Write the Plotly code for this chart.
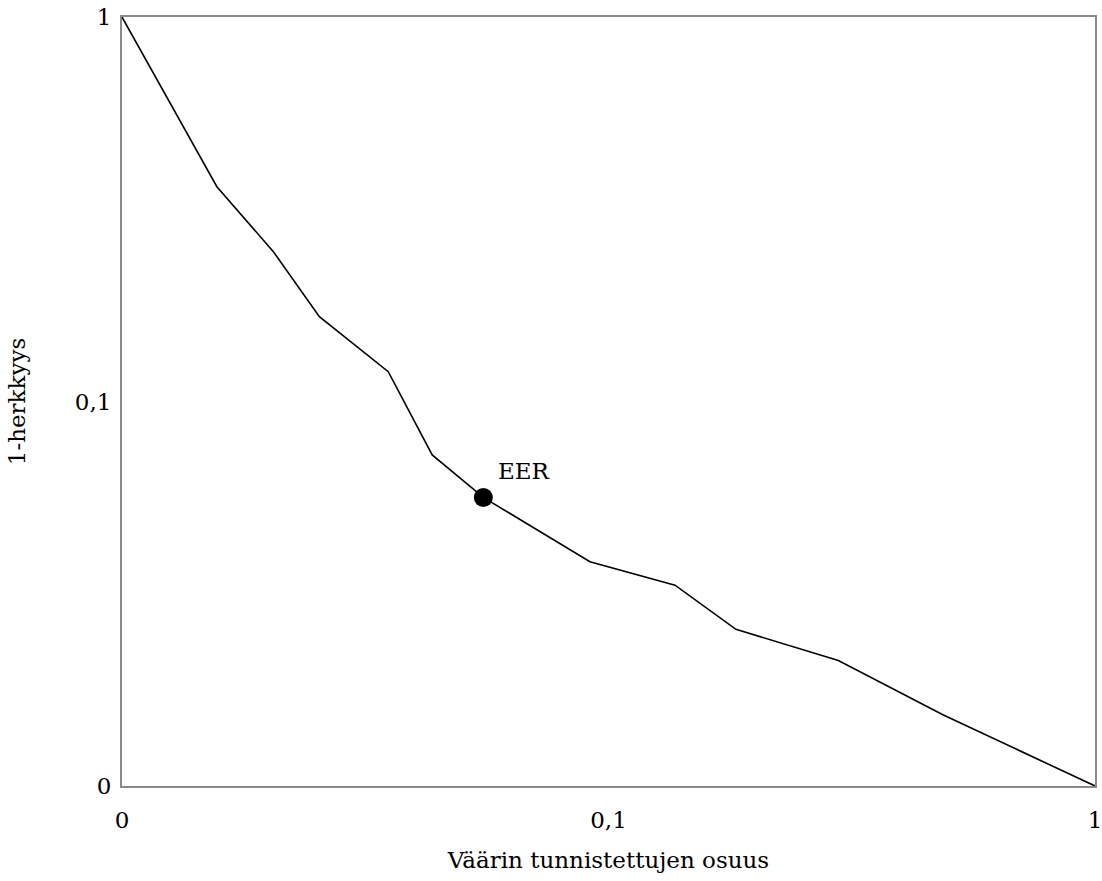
import math
import plotly.graph_objects as go

# DET curve values (false acceptance rate vs 1 - sensitivity), log-log
far = [0.01, 0.01567, 0.02047, 0.02545, 0.03526, 0.04341, 0.0553, 0.0916, 0.137, 0.1828, 0.2968, 0.4879, 1.0]
frr = [1.0, 0.362, 0.2453, 0.1662, 0.1195, 0.0726, 0.0563, 0.0383, 0.0333, 0.02556, 0.0212, 0.0153, 0.01]
eer_x = [0.0553]
eer_y = [0.0563]
eer_label = "EER"

tick_vals = [0.01, 0.1, 1]
tick_text = ["0", "0,1", "1"]

x_title = "Väärin tunnistettujen osuus"
y_title = "1-herkkyys"

FONT = "DejaVu Serif"
FS = 23

fig = go.Figure()
fig.add_trace(go.Scatter(x=far, y=frr, mode="lines",
                         line=dict(color="black", width=1.6),
                         showlegend=False, hoverinfo="skip"))
fig.add_trace(go.Scatter(x=eer_x, y=eer_y, mode="markers",
                         marker=dict(color="black", size=19),
                         showlegend=False))
fig.add_annotation(x=math.log10(eer_x[0]), y=math.log10(eer_y[0]), xref="x", yref="y",
                   text=eer_label, showarrow=False,
                   xanchor="left", yanchor="bottom", xshift=13, yshift=11,
                   font=dict(family=FONT, size=FS, color="black"))

axis_common = dict(type="log", tickvals=tick_vals, ticktext=tick_text,
                   showgrid=False, zeroline=False, showline=True, mirror=True,
                   linecolor="#8a8a8a", linewidth=2, ticks="", automargin=False,
                   ticklabeloverflow="allow",
                   tickfont=dict(family=FONT, size=FS, color="black"))

fig.update_xaxes(range=[-2, 0], ticklabelstandoff=12,
                 title=dict(text=x_title, font=dict(family=FONT, size=FS, color="black"), standoff=20),
                 **axis_common)
fig.update_yaxes(range=[-2, 0], ticklabelstandoff=4,
                 title=dict(text=y_title, font=dict(family=FONT, size=FS, color="black"), standoff=43),
                 **axis_common)

fig.update_layout(width=1102, height=881,
                  margin=dict(l=122, r=7, t=17, b=95),
                  paper_bgcolor="white", plot_bgcolor="white",
                  font=dict(family=FONT, size=FS, color="black"))

fig.write_html("out.html", config={"displayModeBar": False},
               post_script="document.body.style.margin='0';document.body.style.overflow='hidden';")
